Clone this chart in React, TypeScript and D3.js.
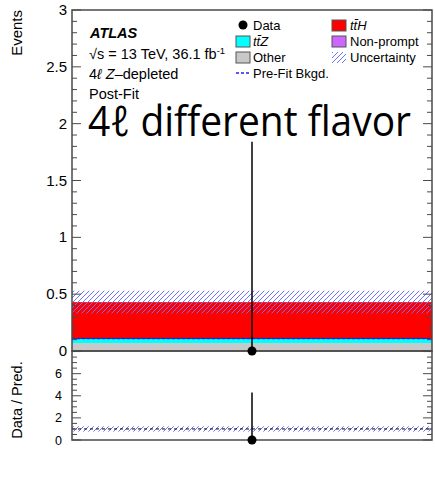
import React from 'react';
import * as d3 from 'd3';

// single bin, post-fit yields
const stackNames = ['Other', 'ttZ', 'ttH', 'Non-prompt'];
const stackValues = [0.07, 0.04, 0.32, 0.0];
const stackColors = ['#c8c8c8', '#00ffff', '#ff0000', '#cc66ff'];
const dataValues = [0];
const dataErrUp = [1.84];
const totalUnc = [0.1];
const prefitBkgd = [0.11];
const ratioValues = [0];
const ratioErrUp = [4.3];
const ratioUnc = [0.24];
const mainTicks = [0, 0.5, 1, 1.5, 2, 2.5, 3];
const ratioTicks = [0, 2, 4, 6];

const W = 435;
const H = 479;
const left = 72;
const right = 432;
const mainTop = 10;
const mainBottom = 351;
const ratioBottom = 440;

const font = '"Liberation Sans", Arial, sans-serif';
const frameColor = '#4a4a4a';
const hatchColor = '#7070ff';

const App: React.FC = () => {
  const x = d3.scaleLinear().domain([0, 1]).range([left, right]);
  const y = d3.scaleLinear().domain([0, 3]).range([mainBottom, mainTop]);
  const yr = d3.scaleLinear().domain([0, 8.05]).range([ratioBottom, mainBottom]);

  // stack
  let base = 0;
  const bars = stackValues.map((v, i) => {
    const b = { y0: base, y1: base + v, color: stackColors[i], name: stackNames[i] };
    base += v;
    return b;
  });
  const total = base;

  const mainMinor = d3.range(0, 3.0001, 0.1);
  const ratioMinor = d3.range(0, 8.0001, 0.5);
  const cx = x(0.5);

  return (
    <svg width={W} height={H} style={{ position: 'absolute', left: 0, top: 0 }}>
      <defs>
        <pattern id="hatch" patternUnits="userSpaceOnUse" width={5} height={5}>
          <line x1={-1} y1={6} x2={6} y2={-1} stroke={hatchColor} strokeWidth={1} />
        </pattern>
      </defs>
      <rect width={W} height={H} fill="#fff" />

      {/* main panel stack */}
      {bars.filter((b) => b.y1 > b.y0).map((b, i) => (
        <rect
          key={i}
          x={x(0)}
          y={y(b.y1)}
          width={x(1) - x(0)}
          height={y(b.y0) - y(b.y1)}
          fill={b.color}
        />
      ))}
      <line x1={x(0)} x2={x(1)} y1={y(bars[1].y1)} y2={y(bars[1].y1)} stroke="#000" strokeWidth={0.6} />
      <line
        x1={x(0)}
        x2={x(1)}
        y1={y(prefitBkgd[0])}
        y2={y(prefitBkgd[0])}
        stroke="#2020ff"
        strokeWidth={1.3}
        strokeDasharray="3,2"
      />
      <rect
        x={x(0)}
        y={y(total + totalUnc[0])}
        width={x(1) - x(0)}
        height={y(total - totalUnc[0]) - y(total + totalUnc[0])}
        fill="url(#hatch)"
      />

      {/* main frame + ticks */}
      <rect x={left} y={mainTop} width={right - left} height={mainBottom - mainTop} fill="none" stroke={frameColor} strokeWidth={1.5} />
      {mainMinor.map((t, i) => {
        const major = mainTicks.some((m) => Math.abs(m - t) < 1e-6);
        const len = major ? 9 : 5;
        return (
          <g key={i}>
            <line x1={left} x2={left + len} y1={y(t)} y2={y(t)} stroke={frameColor} strokeWidth={1} />
            <line x1={right} x2={right - len} y1={y(t)} y2={y(t)} stroke={frameColor} strokeWidth={1} />
          </g>
        );
      })}
      {mainTicks.map((t) => (
        <text key={t} x={left - 5} y={y(t) + 5} textAnchor="end" fontSize={15} fontFamily={font} fill="#000">
          {d3.format('~g')(t)}
        </text>
      ))}

      {/* ratio panel */}
      <rect
        x={x(0)}
        y={yr(1 + ratioUnc[0])}
        width={x(1) - x(0)}
        height={yr(1 - ratioUnc[0]) - yr(1 + ratioUnc[0])}
        fill="url(#hatch)"
      />
      <line x1={x(0)} x2={x(1)} y1={yr(1)} y2={yr(1)} stroke="#000" strokeWidth={1} strokeDasharray="3,3" />
      <rect x={left} y={mainBottom} width={right - left} height={ratioBottom - mainBottom} fill="none" stroke={frameColor} strokeWidth={1.5} />
      {ratioMinor.map((t, i) => {
        const major = t % 2 === 0;
        const len = major ? 9 : 5;
        return (
          <g key={i}>
            <line x1={left} x2={left + len} y1={yr(t)} y2={yr(t)} stroke={frameColor} strokeWidth={1} />
            <line x1={right} x2={right - len} y1={yr(t)} y2={yr(t)} stroke={frameColor} strokeWidth={1} />
          </g>
        );
      })}
      {ratioTicks.map((t) => (
        <text key={t} x={left - 10} y={yr(t) + 4.5} textAnchor="end" fontSize={12.5} fontFamily={font} fill="#000">
          {t}
        </text>
      ))}

      {/* data */}
      {dataValues.map((v, i) => (
        <g key={i}>
          <line x1={cx} x2={cx} y1={y(v)} y2={y(v + dataErrUp[i])} stroke="#000" strokeWidth={1.5} />
          <circle cx={cx} cy={y(v)} r={4.5} fill="#000" />
        </g>
      ))}
      {ratioValues.map((v, i) => (
        <g key={i}>
          <line x1={cx} x2={cx} y1={yr(v)} y2={yr(v + ratioErrUp[i])} stroke="#000" strokeWidth={1.5} />
          <circle cx={cx} cy={yr(v)} r={4.5} fill="#000" />
        </g>
      ))}

      {/* axis titles */}
      <text transform="translate(22,10) rotate(-90)" textAnchor="end" fontSize={15} fontFamily={font}>
        Events
      </text>
      <text transform="translate(22,400) rotate(-90)" textAnchor="middle" fontSize={14.5} fontFamily={font}>
        Data / Pred.
      </text>

      {/* labels */}
      <text x={90} y={38} fontSize={14.5} fontWeight="bold" fontStyle="italic" fontFamily={font}>
        ATLAS
      </text>
      <text x={89} y={59} fontSize={14.5} fontFamily={font}>
        √s = 13 TeV, 36.1 fb
        <tspan dy={-5} fontSize={9.5}>-1</tspan>
      </text>
      <text x={89} y={79} fontSize={14.5} fontFamily={font}>
        4<tspan fontStyle="italic">ℓ</tspan> <tspan fontStyle="italic">Z</tspan>–depleted
      </text>
      <text x={89} y={99} fontSize={14.5} fontFamily={font}>
        Post-Fit
      </text>
      <text x={88} y={136} fontSize={42} fontFamily='"Open Sans", sans-serif' textLength={323} lengthAdjust="spacingAndGlyphs">
        4ℓ different flavor
      </text>

      {/* legend */}
      <g fontFamily={font} fontSize={13}>
        <circle cx={243} cy={25} r={4.5} fill="#000" />
        <text x={253} y={30}>Data</text>
        <rect x={236} y={36} width={14} height={11} fill={stackColors[1]} stroke="#555" strokeWidth={1} />
        <text x={253} y={46} fontStyle="italic">tt̄Z</text>
        <rect x={236} y={52} width={14} height={11} fill={stackColors[0]} stroke="#555" strokeWidth={1} />
        <text x={253} y={62}>Other</text>
        <line x1={236} x2={250} y1={73} y2={73} stroke="#2020ff" strokeWidth={1.3} strokeDasharray="3,2" />
        <text x={253} y={78}>Pre-Fit Bkgd.</text>

        <rect x={332} y={20} width={14} height={11} fill={stackColors[2]} stroke="#555" strokeWidth={1} />
        <text x={350} y={30} fontStyle="italic">tt̄H</text>
        <rect x={332} y={36} width={14} height={11} fill={stackColors[3]} stroke="#555" strokeWidth={1} />
        <text x={350} y={46}>Non-prompt</text>
        <rect x={332} y={52} width={14} height={11} fill="url(#hatch)" />
        <text x={350} y={62}>Uncertainty</text>
      </g>
    </svg>
  );
};

export default App;
